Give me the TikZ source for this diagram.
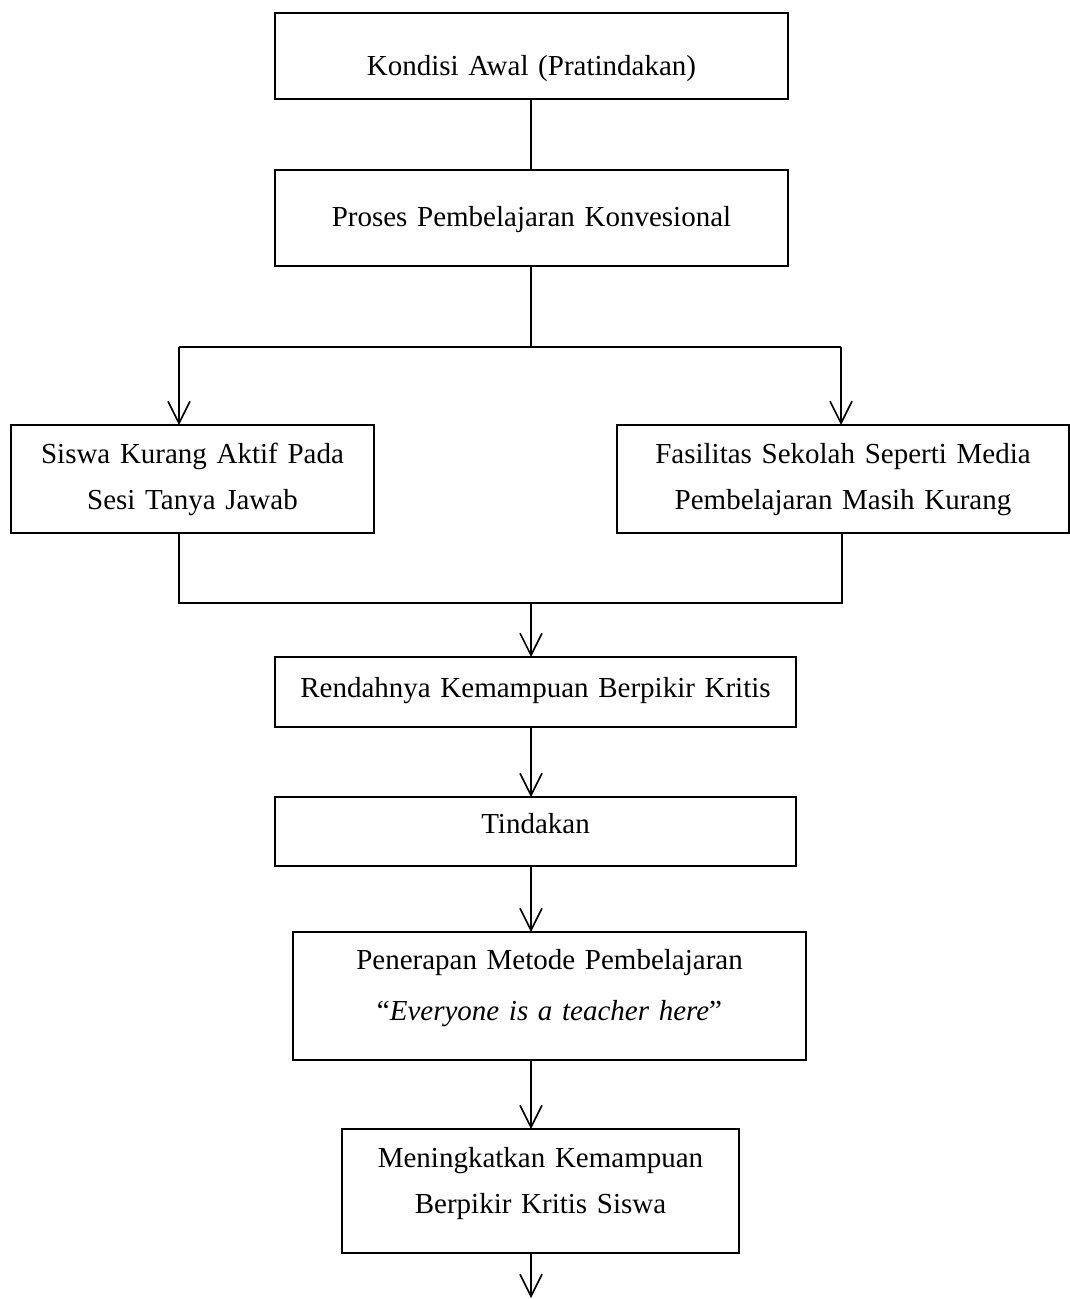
\documentclass[tikz,border=0pt]{standalone}
\usepackage{fontspec}
\setmainfont{Liberation Serif}
\usetikzlibrary{arrows.meta}
\begin{document}
\begin{tikzpicture}[x=1pt,y=-1pt,
  box/.style={draw, line width=2pt, inner sep=0pt, outer sep=0pt, anchor=north,
    align=center, font=\fontsize{29}{46}\selectfont},
  link/.style={line width=1.6pt},
  arr/.style={link, -{Straight Barb[length=22pt,width=22pt,line width=1.6pt]}}]
\useasboundingbox (0,0) rectangle (1070,1299);
\node[box, text width=513pt, text height=62pt, text depth=24pt] (b1) at (531.5,13) {Kondisi Awal (Pratindakan)};
\node[box, text width=513pt, text height=56pt, text depth=40pt] (b2) at (531.5,170) {Proses Pembelajaran Konvesional};
\node[box, text width=363pt, text height=38pt, text depth=70pt] (b3) at (192.5,425) {Siswa Kurang Aktif Pada\\Sesi Tanya Jawab};
\node[box, text width=452pt, text height=38pt, text depth=70pt] (b4) at (843,425) {Fasilitas Sekolah Seperti Media\\Pembelajaran Masih Kurang};
\node[box, text width=521pt, text height=40pt, text depth=30pt] (b5) at (535.5,657) {Rendahnya Kemampuan Berpikir Kritis};
\node[box, text width=521pt, text height=36pt, text depth=33pt] (b6) at (535.5,797) {Tindakan};
\node[box, text width=513pt, text height=37pt, text depth=91pt] (b7) at (549.5,932) {Penerapan Metode Pembelajaran\\[5pt]“\textit{Everyone is a teacher here}”};
\node[box, text width=397pt, text height=38pt, text depth=86pt] (b8) at (540.5,1129) {Meningkatkan Kemampuan\\Berpikir Kritis Siswa};
\coordinate (ax) at (531,0);
\coordinate (jL) at (179,347);
\coordinate (jR) at (841,347);
\coordinate (kL) at (179,603);
\coordinate (kR) at (842,603);
\coordinate (tail) at (531,1298);
\draw[link] (b1.south -| ax) -- (b2.north -| ax);
\draw[link] (b2.south -| ax) -- (jL -| ax);
\draw[link] (jL) -- (jR);
\draw[arr] (jL) -- (b3.north -| jL);
\draw[arr] (jR) -- (b4.north -| jR);
\draw[link] (b3.south -| kL) -- (kL) -- (kR) -- (b4.south -| kR);
\draw[arr] (kL -| ax) -- (b5.north -| ax);
\draw[arr] (b5.south -| ax) -- (b6.north -| ax);
\draw[arr] (b6.south -| ax) -- (b7.north -| ax);
\draw[arr] (b7.south -| ax) -- (b8.north -| ax);
\draw[arr] (b8.south -| ax) -- (tail);
\end{tikzpicture}
\end{document}
